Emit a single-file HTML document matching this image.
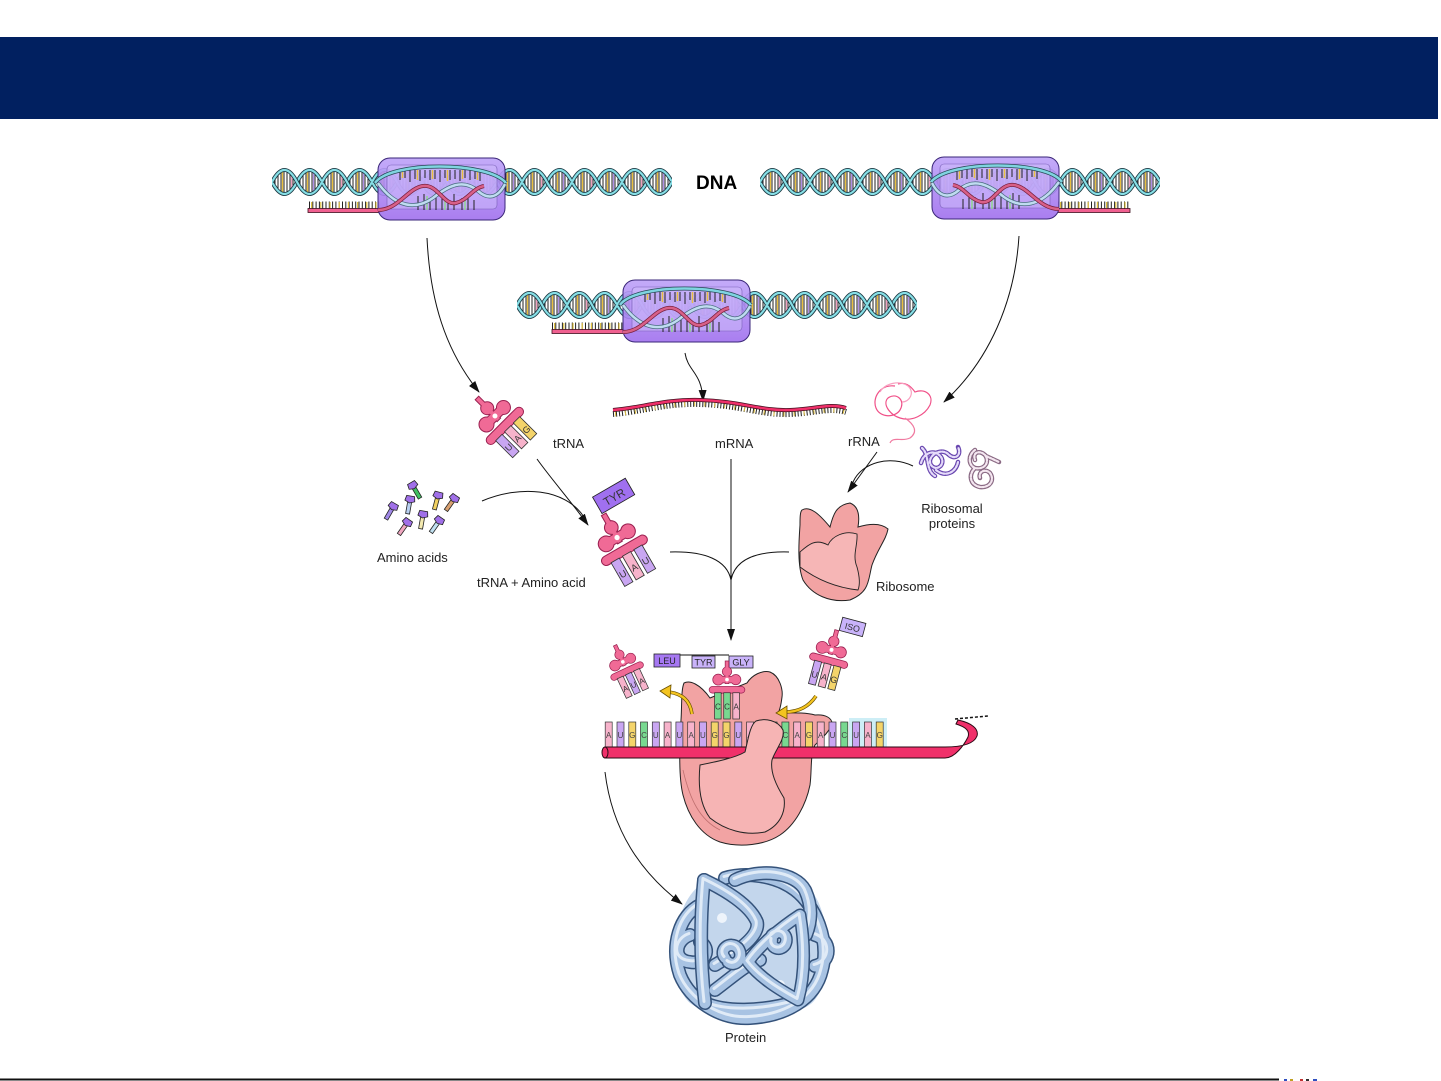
<!DOCTYPE html>
<html><head><meta charset="utf-8"><style>
html,body{margin:0;padding:0;background:#fff;}
svg{display:block;}
text{font-family:"Liberation Sans",Arial,sans-serif;}
</style></head><body>
<svg width="1441" height="1081" viewBox="0 0 1441 1081" xmlns="http://www.w3.org/2000/svg">
<defs>
 <pattern id="hx" width="50" height="30" patternUnits="userSpaceOnUse">
  <g stroke="#222" stroke-width="1">
   <line x1="3" y1="10" x2="3" y2="20"/><line x1="6" y1="6.5" x2="6" y2="23.5"/><line x1="9" y1="4.5" x2="9" y2="25.5"/><line x1="12" y1="4" x2="12" y2="26"/><line x1="15" y1="4" x2="15" y2="26"/><line x1="18" y1="5.5" x2="18" y2="24.5"/><line x1="21" y1="9" x2="21" y2="21"/>
   <line x1="28" y1="10" x2="28" y2="20"/><line x1="31" y1="6.5" x2="31" y2="23.5"/><line x1="34" y1="4.5" x2="34" y2="25.5"/><line x1="37" y1="4" x2="37" y2="26"/><line x1="40" y1="4" x2="40" y2="26"/><line x1="43" y1="5.5" x2="43" y2="24.5"/><line x1="46" y1="9" x2="46" y2="21"/>
  </g>
  <g stroke-width="1.3">
   <line x1="10.5" y1="4" x2="10.5" y2="26" stroke="#e8c040"/><line x1="19.5" y1="7" x2="19.5" y2="23" stroke="#f0a0c0"/>
   <line x1="35.5" y1="4" x2="35.5" y2="26" stroke="#e8c040"/><line x1="41.5" y1="5" x2="41.5" y2="25" stroke="#b090e8"/>
  </g>
  <g fill="none">
   <path d="M0,15 Q12.5,39 25,15 T50,15" stroke="#1d3a44" stroke-width="4"/>
   <path d="M0,15 Q12.5,39 25,15 T50,15" stroke="#86dfe6" stroke-width="2.2"/>
   <path d="M0,15 Q12.5,-9 25,15 T50,15" stroke="#1d3a44" stroke-width="4"/>
   <path d="M0,15 Q12.5,-9 25,15 T50,15" stroke="#86dfe6" stroke-width="2.2"/>
  </g>
 </pattern>
 <linearGradient id="bg" x1="0" y1="0" x2="0" y2="1">
  <stop offset="0" stop-color="#bda2f8"/><stop offset="1" stop-color="#a070ee"/>
 </linearGradient>
 <g id="box">
  <rect x="0" y="0" width="127" height="62" rx="12" fill="url(#bg)" fill-opacity="0.9" stroke="#3a2678" stroke-width="1"/>
  <rect x="9" y="7" width="110" height="44" rx="4" fill="#cdbcfb" fill-opacity="0.55" stroke="#7a60b8" stroke-width="0.6"/>
  <g stroke="#222" stroke-width="1">
   <path d="M22,12 V22 M27,12 V20 M32,12 V24 M37,12 V21 M42,12 V23 M47,12 V20 M52,12 V22 M57,12 V21 M62,12 V24 M67,12 V20 M72,12 V22 M77,12 V21 M82,12 V23 M87,12 V20 M92,12 V22 M97,12 V21 M102,12 V23"/>
   <path d="M40,52 V38 M46,52 V36 M52,52 V40 M58,52 V34 M64,52 V38 M70,52 V42 M76,52 V36 M84,52 V40 M90,52 V36 M96,52 V42"/>
  </g>
  <g stroke-width="1.5">
   <path d="M24.5,12 V20 M39.5,12 V22 M54.5,12 V21 M69.5,12 V23 M84.5,12 V21 M99.5,12 V22" stroke="#e8c040"/>
   <path d="M49,52 V38 M67,52 V40 M87,52 V38" stroke="#90d890"/>
  </g>
  <path d="M-3,25 C12,3 110,3 128,25" fill="none" stroke="#2a4a58" stroke-width="4"/>
  <path d="M-3,25 C12,3 110,3 128,25" fill="none" stroke="#7fd4e0" stroke-width="2.5"/>
  <path d="M0,25 C18,50 38,52 55,40 C70,28 85,20 100,33 C110,42 120,40 127,26" fill="none" stroke="#4a6a80" stroke-width="4"/>
  <path d="M0,25 C18,50 38,52 55,40 C70,28 85,20 100,33 C110,42 120,40 127,26" fill="none" stroke="#bfdcf0" stroke-width="2.5"/>
  <path d="M0,52 C20,52 30,30 45,28 C60,26 66,48 78,45 C90,42 95,30 106,28" fill="none" stroke="#7a2040" stroke-width="4"/>
  <path d="M0,52 C20,52 30,30 45,28 C60,26 66,48 78,45 C90,42 95,30 106,28" fill="none" stroke="#d86088" stroke-width="2.5"/>
 </g>
 <marker id="ah" viewBox="0 0 12 8" refX="11" refY="4" markerWidth="12" markerHeight="8" orient="auto" markerUnits="userSpaceOnUse">
  <path d="M0,0 L12,4 L0,8 z" fill="#111"/>
 </marker>
 <g id="trs" fill="#f06a96">
  <rect x="-2" y="-42" width="4" height="30"/>
  <circle cx="-12" cy="-17" r="7"/>
  <circle cx="12" cy="-17" r="6.5"/>
  <circle cx="0" cy="-28" r="6"/>
  <rect x="-12" y="-21" width="24" height="8"/>
  <rect x="-24" y="-7" width="48" height="8" rx="4"/>
 </g>
 <g id="pr1" fill="none" stroke-linecap="round" stroke-linejoin="round">
  <path d="M725,878 C745,872 775,875 795,890 C815,905 830,940 822,970 C815,1000 785,1016 750,1018 C720,1020 690,1000 680,975 C670,945 680,915 700,905"/>
  <path d="M690,935 C675,940 672,960 690,962 C705,965 712,948 700,942"/>
  <path d="M815,935 C832,940 832,962 815,966"/>
  <path d="M705,1003 C725,1012 760,1012 795,1002"/>
 </g>
 <g id="pr2" fill="none" stroke-linecap="round" stroke-linejoin="round">
  <path d="M735,880 C760,868 795,872 805,890 C812,905 812,920 806,935"/>
  <path d="M704,880 C700,920 700,960 705,1003"/>
  <path d="M704,880 C725,890 750,905 757,922 C760,935 740,950 715,965"/>
  <path d="M715,990 C735,975 745,965 760,960"/>
 </g>
 <g id="pr3" fill="none" stroke-linecap="round" stroke-linejoin="round">
  <path d="M800,915 C805,945 805,975 798,1000 C780,990 760,978 748,962 C760,945 780,928 800,915"/>
  <path d="M725,958 C718,950 730,940 738,948 C745,958 735,968 728,962"/>
  <path d="M772,935 C780,928 790,935 785,945 C780,952 770,948 772,940"/>
 </g>
</defs>

<rect x="0" y="0" width="1441" height="1081" fill="#fff"/>
<rect x="0" y="37" width="1438" height="82" fill="#012060"/>

<!-- DNA helices -->
<g transform="translate(272,167)"><rect width="400" height="30" fill="url(#hx)"/></g>
<g transform="translate(760,167)"><rect width="400" height="30" fill="url(#hx)"/></g>
<g transform="translate(517,290)"><rect width="400" height="30" fill="url(#hx)"/></g>

<!-- RNA tails -->
<g>
 <path d="M309,205 L380,205" stroke="#222" stroke-width="7" stroke-dasharray="1 2.3"/>
 <path d="M311,205 L380,205" stroke="#e0c040" stroke-width="6" stroke-dasharray="1.2 8"/>
 <rect x="308" y="208.5" width="72" height="4" fill="#f06090" stroke="#40101e" stroke-width="0.8"/>
 <path d="M1058,205 L1129,205" stroke="#222" stroke-width="7" stroke-dasharray="1 2.3"/>
 <path d="M1060,205 L1129,205" stroke="#e0c040" stroke-width="6" stroke-dasharray="1.2 8"/>
 <rect x="1058" y="208.5" width="72" height="4" fill="#f06090" stroke="#40101e" stroke-width="0.8"/>
 <path d="M552,326 L624,326" stroke="#222" stroke-width="7" stroke-dasharray="1 2.3"/>
 <path d="M554,326 L624,326" stroke="#e0c040" stroke-width="6" stroke-dasharray="1.2 8"/>
 <rect x="552" y="329.5" width="72" height="4" fill="#f06090" stroke="#40101e" stroke-width="0.8"/>
</g>

<!-- polymerase boxes -->
<use href="#box" transform="translate(378,158)"/>
<use href="#box" transform="translate(1059,157) scale(-1,1)"/>
<use href="#box" transform="translate(623,280)"/>

<text x="696" y="189" font-size="19" font-weight="bold" fill="#000">DNA</text>

<!-- arrows -->
<g fill="none" stroke="#111" stroke-width="1">
 <path d="M427,238 C430,300 445,350 479,392" marker-end="url(#ah)"/>
 <path d="M1019,236 C1015,300 990,360 944,402" marker-end="url(#ah)"/>
 <path d="M685,353 C688,372 702,372 703,401" marker-end="url(#ah)"/>
 <path d="M537,459 C552,480 570,500 588,525" marker-end="url(#ah)"/>
 <path d="M482,501 C520,485 565,488 584,517"/>
 <path d="M877,452 L848,492" marker-end="url(#ah)"/>
 <path d="M913,466 C890,455 862,462 853,482"/>
 <path d="M731,459 L731,640" marker-end="url(#ah)"/>
 <path d="M670,552 C705,551 727,560 731,580"/>
 <path d="M789,552 C755,551 735,560 731,580"/>
 <path d="M605,772 C612,830 640,872 682,904" marker-end="url(#ah)"/>
</g>

<!-- mRNA wave -->
<path d="M613,414 C640,412 665,403 700,404 C740,405 760,415 790,414 C815,413 830,407 846,412" fill="none" stroke="#222" stroke-width="6" stroke-dasharray="1 2"/>
<path d="M615,414 C640,412 665,403 700,404 C740,405 760,415 790,414 C815,413 830,407 846,412" fill="none" stroke="#e0c040" stroke-width="5" stroke-dasharray="1 9"/>
<path d="M613,410 C640,408 665,399 700,400 C740,401 760,411 790,410 C815,409 830,403 846,408" fill="none" stroke="#40101e" stroke-width="4"/>
<path d="M613,410 C640,408 665,399 700,400 C740,401 760,411 790,410 C815,409 830,403 846,408" fill="none" stroke="#f0306a" stroke-width="2.5"/>

<!-- labels -->
<g font-size="13" fill="#222">
 <text x="553" y="448">tRNA</text>
 <text x="715" y="448">mRNA</text>
 <text x="848" y="446">rRNA</text>
 <text x="377" y="562">Amino acids</text>
 <text x="477" y="587">tRNA + Amino acid</text>
 <text x="952" y="513" text-anchor="middle">Ribosomal</text>
 <text x="952" y="528" text-anchor="middle">proteins</text>
 <text x="876" y="591">Ribosome</text>
 <text x="725" y="1042">Protein</text>
</g>

<!-- tRNA (top) -->
<g transform="translate(507,428) rotate(-45) scale(1.0)">
 <use href="#trs" stroke="#9a2050" stroke-width="2"/><use href="#trs"/>
 <circle cx="0" cy="-17" r="2.5" fill="#fff"/>
 <g stroke="#333" stroke-width="0.8">
  <rect x="-17" y="1" width="9" height="24" fill="#c9a6f2"/>
  <rect x="-4.5" y="1" width="9" height="24" fill="#f7b3cb"/>
  <rect x="8" y="1" width="9" height="24" fill="#f4d46a"/>
 </g>
 <g font-size="9" fill="#333" text-anchor="middle"><text x="-12.5" y="18">U</text><text x="0" y="18">A</text><text x="12.5" y="18">G</text></g>
</g>

<!-- amino acids -->
<g stroke="#222" stroke-width="0.8">
 <g transform="translate(413,486) rotate(-30)"><rect x="-2" y="0" width="4" height="14" fill="#40c060"/><path d="M-4,-4 L4,-4 L5,1 L0,3 L-5,1 Z" fill="#a070e8"/></g>
 <g transform="translate(410,500) rotate(10)"><rect x="-2" y="0" width="4" height="14" fill="#b8d0f0"/><path d="M-4,-4 L4,-4 L5,1 L0,3 L-5,1 Z" fill="#a070e8"/></g>
 <g transform="translate(438,496) rotate(15)"><rect x="-2" y="0" width="4" height="14" fill="#f0d060"/><path d="M-4,-4 L4,-4 L5,1 L0,3 L-5,1 Z" fill="#a070e8"/></g>
 <g transform="translate(454,499) rotate(35)"><rect x="-2" y="0" width="4" height="14" fill="#d8a070"/><path d="M-4,-4 L4,-4 L5,1 L0,3 L-5,1 Z" fill="#a070e8"/></g>
 <g transform="translate(393,507) rotate(30)"><rect x="-2" y="0" width="4" height="14" fill="#a088e8"/><path d="M-4,-4 L4,-4 L5,1 L0,3 L-5,1 Z" fill="#a070e8"/></g>
 <g transform="translate(423,515) rotate(10)"><rect x="-2" y="0" width="4" height="14" fill="#f4eab0"/><path d="M-4,-4 L4,-4 L5,1 L0,3 L-5,1 Z" fill="#a070e8"/></g>
 <g transform="translate(439,521) rotate(35)"><rect x="-2" y="0" width="4" height="14" fill="#c0e0f0"/><path d="M-4,-4 L4,-4 L5,1 L0,3 L-5,1 Z" fill="#a070e8"/></g>
 <g transform="translate(407,523) rotate(35)"><rect x="-2" y="0" width="4" height="14" fill="#f0a8c0"/><path d="M-4,-4 L4,-4 L5,1 L0,3 L-5,1 Z" fill="#a070e8"/></g>
</g>

<!-- tRNA + amino acid -->
<g transform="translate(626,553) rotate(-30) scale(1.05)">
 <rect x="-1" y="-62" width="36" height="18" fill="#a070f0" stroke="#222" stroke-width="0.8"/>
 <text x="17" y="-48" font-size="11" fill="#333" text-anchor="middle">TYR</text>
 <use href="#trs" stroke="#9a2050" stroke-width="2"/><use href="#trs"/>
 <circle cx="0" cy="-17" r="2.5" fill="#fff"/>
 <g stroke="#333" stroke-width="0.8">
  <rect x="-17" y="1" width="9" height="26" fill="#c9a6f2"/>
  <rect x="-4.5" y="1" width="9" height="26" fill="#f7b3cb"/>
  <rect x="8" y="1" width="9" height="26" fill="#c9a6f2"/>
 </g>
 <g font-size="9" fill="#333" text-anchor="middle"><text x="-12.5" y="19">U</text><text x="0" y="19">A</text><text x="12.5" y="19">U</text></g>
</g>

<!-- rRNA -->
<g fill="none" stroke-width="1.2">
 <path d="M895,386 C880,384 872,398 876,408 C880,418 895,418 900,410 C906,400 896,392 888,398 C882,404 890,415 900,418 C912,422 925,415 930,405 C934,395 925,388 915,392 C910,385 905,382 898,384" stroke="#f05088"/>
 <path d="M905,418 C915,425 918,432 910,438 C902,442 893,436 890,443" stroke="#f07aa0"/>
 <path d="M880,392 C885,383 900,380 908,386 C915,392 910,402 902,402" stroke="#f8a0c0"/>
</g>

<!-- ribosomal proteins -->
<g fill="none" stroke-linecap="round">
 <path d="M921,463 C924,452 935,449 941,457 C946,465 936,472 931,465 C926,457 940,447 948,454 C955,461 962,455 958,447 M936,470 C946,478 956,472 958,462 M922,448 C930,455 925,470 935,476" stroke="#6a48b0" stroke-width="4.5"/>
 <path d="M921,463 C924,452 935,449 941,457 C946,465 936,472 931,465 C926,457 940,447 948,454 C955,461 962,455 958,447 M936,470 C946,478 956,472 958,462 M922,448 C930,455 925,470 935,476" stroke="#e6dcfa" stroke-width="2.2" stroke-dasharray="2.2 1.6"/>
 <path d="M975,450 C968,455 968,465 975,468 C985,470 990,462 985,455 C980,450 972,452 975,460 M975,468 C968,475 970,485 980,487 C990,488 995,480 990,473 C985,468 978,472 980,478 M986,456 L999,462" stroke="#8a6a84" stroke-width="4.5"/>
 <path d="M975,450 C968,455 968,465 975,468 C985,470 990,462 985,455 C980,450 972,452 975,460 M975,468 C968,475 970,485 980,487 C990,488 995,480 990,473 C985,468 978,472 980,478 M986,456 L999,462" stroke="#f4e6f0" stroke-width="2.2" stroke-dasharray="2.2 1.6"/>
</g>

<!-- ribosome (right) -->
<path d="M802,510 C810,505 820,515 830,527 C833,515 836,505 850,503 C858,506 860,515 858,527 C868,524 880,522 888,529 C886,540 878,548 872,565 C868,580 870,592 850,600 C830,603 812,595 803,580 C797,565 799,540 800,525 C800,518 800,512 802,510 Z" fill="#f2a3a3" stroke="#222" stroke-width="1"/>
<path d="M800,552 C808,545 815,538 828,545 C832,536 845,530 857,534 C858,545 852,555 857,567 C860,578 860,585 858,590 C840,588 820,582 800,567 Z" fill="#f6b6b6" stroke="#222" stroke-width="0.9"/>

<!-- big ribosome back -->
<path d="M684,683 C690,680 700,684 710,698 L747,683 C752,675 762,670 770,672 C780,676 783,690 782,697 C781,705 780,710 778,713 C790,713 805,712 815,715 C825,714 833,718 832,725 C828,733 822,738 815,745 C810,755 812,770 810,785 C806,805 795,825 780,835 C765,845 740,848 720,842 C700,835 688,815 683,795 C678,775 680,740 681,720 C682,705 681,690 684,683 Z" fill="#f2a3a3" stroke="#222" stroke-width="1"/>
<path d="M683,770 C690,800 700,820 720,830" fill="none" stroke="#c07070" stroke-width="0.8"/>

<!-- LEU TYR GLY chain -->
<path d="M680,655 L729,655" stroke="#111" stroke-width="1"/>
<rect x="654" y="654" width="26" height="13" fill="#a678f2" stroke="#222" stroke-width="0.8"/>
<rect x="692" y="656" width="23" height="12" fill="#c9b3fa" stroke="#222" stroke-width="0.8"/>
<rect x="729" y="656" width="24" height="12" fill="#c9b3fa" stroke="#222" stroke-width="0.8"/>
<g font-size="9" fill="#222" text-anchor="middle"><text x="667" y="664">LEU</text><text x="703.5" y="665.5">TYR</text><text x="741" y="665.5">GLY</text></g>

<!-- center tRNA -->
<g transform="translate(727,692) scale(0.73)">
 <use href="#trs" stroke="#9a2050" stroke-width="2"/><use href="#trs"/>
 <circle cx="0" cy="-17" r="2.5" fill="#fff"/>
 <g stroke="#333" stroke-width="1">
  <rect x="-17" y="1" width="9" height="36" fill="#78d890"/>
  <rect x="-4.5" y="1" width="9" height="36" fill="#78d890"/>
  <rect x="8" y="1" width="9" height="36" fill="#f7b3cb"/>
 </g>
 <g font-size="11" fill="#333" text-anchor="middle"><text x="-12.5" y="24">C</text><text x="0" y="24">C</text><text x="12.5" y="24">A</text></g>
</g>

<!-- left leaving tRNA -->
<g transform="translate(628,673) rotate(-25) scale(0.72)">
 <use href="#trs" stroke="#9a2050" stroke-width="2"/><use href="#trs"/>
 <circle cx="0" cy="-17" r="2.5" fill="#fff"/>
 <g stroke="#333" stroke-width="1">
  <rect x="-17" y="1" width="9" height="30" fill="#f7b3cb"/>
  <rect x="-4.5" y="1" width="9" height="30" fill="#c9a6f2"/>
  <rect x="8" y="1" width="9" height="30" fill="#f7b3cb"/>
 </g>
 <g font-size="11" fill="#333" text-anchor="middle"><text x="-12.5" y="22">A</text><text x="0" y="22">U</text><text x="12.5" y="22">A</text></g>
</g>

<!-- right incoming tRNA -->
<g transform="translate(828,663) rotate(15) scale(0.8)">
 <rect x="3" y="-60" width="30" height="17" fill="#c9b3fa" stroke="#222" stroke-width="1"/>
 <text x="18" y="-47" font-size="11" fill="#333" text-anchor="middle">ISO</text>
 <use href="#trs" stroke="#9a2050" stroke-width="2"/><use href="#trs"/>
 <circle cx="0" cy="-17" r="2.5" fill="#fff"/>
 <g stroke="#333" stroke-width="1">
  <rect x="-17" y="1" width="9" height="30" fill="#c9a6f2"/>
  <rect x="-4.5" y="1" width="9" height="30" fill="#f7b3cb"/>
  <rect x="8" y="1" width="9" height="30" fill="#f4d46a"/>
 </g>
 <g font-size="11" fill="#333" text-anchor="middle"><text x="-12.5" y="22">U</text><text x="0" y="22">A</text><text x="12.5" y="22">G</text></g>
</g>

<!-- yellow arrows -->
<path d="M692,714 C690,700 682,694 669,692" fill="none" stroke="#6a5000" stroke-width="3.6"/>
<path d="M692,714 C690,700 682,694 669,692" fill="none" stroke="#f4c420" stroke-width="2.2"/>
<path d="M660,691 L671,685 L670,698 Z" fill="#f4c420" stroke="#6a5000" stroke-width="0.8"/>
<path d="M816,696 C808,708 797,712 785,712" fill="none" stroke="#6a5000" stroke-width="3.6"/>
<path d="M816,696 C808,708 797,712 785,712" fill="none" stroke="#f4c420" stroke-width="2.2"/>
<path d="M776,713 L787,706 L787,719 Z" fill="#f4c420" stroke="#6a5000" stroke-width="0.8"/>

<!-- codon highlight -->
<rect x="849" y="718" width="38" height="29" fill="#cdeef6"/>

<!-- nucleotide bars -->
<g stroke="#333" stroke-width="0.7">
 <rect x="605.2" y="722" width="7" height="26" fill="#f7b3cb"/>
 <rect x="617.0" y="722" width="7" height="26" fill="#c9a6f2"/>
 <rect x="628.8" y="722" width="7" height="26" fill="#f4d46a"/>
 <rect x="640.5" y="722" width="7" height="26" fill="#78d890"/>
 <rect x="652.3" y="722" width="7" height="26" fill="#c9a6f2"/>
 <rect x="664.1" y="722" width="7" height="26" fill="#f7b3cb"/>
 <rect x="675.9" y="722" width="7" height="26" fill="#c9a6f2"/>
 <rect x="687.7" y="722" width="7" height="26" fill="#f7b3cb"/>
 <rect x="699.4" y="722" width="7" height="26" fill="#c9a6f2"/>
 <rect x="711.2" y="722" width="7" height="26" fill="#f4d46a"/>
 <rect x="723.0" y="722" width="7" height="26" fill="#f4d46a"/>
 <rect x="734.8" y="722" width="7" height="26" fill="#c9a6f2"/>
 <rect x="746.6" y="722" width="7" height="26" fill="#f7b3cb"/>
 <rect x="758.3" y="722" width="7" height="26" fill="#c9a6f2"/>
 <rect x="770.1" y="722" width="7" height="26" fill="#78d890"/>
 <rect x="781.9" y="722" width="7" height="26" fill="#78d890"/>
 <rect x="793.7" y="722" width="7" height="26" fill="#f7b3cb"/>
 <rect x="805.5" y="722" width="7" height="26" fill="#f4d46a"/>
 <rect x="817.2" y="722" width="7" height="26" fill="#f7b3cb"/>
 <rect x="829.0" y="722" width="7" height="26" fill="#c9a6f2"/>
 <rect x="840.8" y="722" width="7" height="26" fill="#78d890"/>
 <rect x="852.6" y="722" width="7" height="26" fill="#c9a6f2"/>
 <rect x="864.4" y="722" width="7" height="26" fill="#f7b3cb"/>
 <rect x="876.2" y="722" width="7" height="26" fill="#f4d46a"/>
</g>
<g font-size="8" fill="#444" text-anchor="middle">
 <text x="608.7" y="738">A</text><text x="620.5" y="738">U</text><text x="632.3" y="738">G</text><text x="644.0" y="738">C</text>
 <text x="655.8" y="738">U</text><text x="667.6" y="738">A</text><text x="679.4" y="738">U</text><text x="691.2" y="738">A</text>
 <text x="702.9" y="738">U</text><text x="714.7" y="738">G</text><text x="726.5" y="738">G</text><text x="738.3" y="738">U</text>
 <text x="750.1" y="738">A</text><text x="761.8" y="738">U</text><text x="773.6" y="738">C</text><text x="785.4" y="738">C</text>
 <text x="797.2" y="738">A</text><text x="809.0" y="738">G</text><text x="820.7" y="738">A</text><text x="832.5" y="738">U</text>
 <text x="844.3" y="738">C</text><text x="856.1" y="738">U</text><text x="867.9" y="738">A</text><text x="879.7" y="738">G</text>
</g>

<!-- mRNA strand -->
<path d="M605,747 L945,747 C962,747 974,744 977,736 C979,729 972,723 958,720 L956,724 C966,727 970,731 968,737 C964,745 955,758 945,758 L605,758 Z" fill="#f0306a" stroke="#2a0a14" stroke-width="1"/>
<ellipse cx="605" cy="752.5" rx="3" ry="5.5" fill="#f0306a" stroke="#2a0a14" stroke-width="1"/>
<path d="M955,719 L988,716" stroke="#111" stroke-width="1.5" stroke-dasharray="3 2"/>

<!-- big ribosome front -->
<path d="M700,765 C715,762 735,758 745,752 C748,740 750,725 756,721 C765,718 778,720 783,730 C785,740 775,750 772,760 C770,772 776,785 784,798 C786,812 780,825 765,832 C745,836 725,830 710,818 C700,805 698,785 700,765 Z" fill="#f6b4b4" stroke="#222" stroke-width="1"/>

<!-- protein -->
<path d="M700,885 C730,868 790,868 812,892 C832,915 832,985 812,1003 C790,1022 715,1022 690,1003 C668,985 668,910 700,885 Z" fill="#c3d6ec"/>
<circle cx="748" cy="950" r="9" fill="#fff"/>
<circle cx="722" cy="918" r="5" fill="#eef4fb"/>
<circle cx="780" cy="985" r="5" fill="#eef4fb"/>
<use href="#pr1" stroke="#34527a" stroke-width="14"/>
<use href="#pr1" stroke="#a8c3e3" stroke-width="11"/>
<use href="#pr1" stroke="#e0ebf7" stroke-width="3" transform="translate(-1,-1.5)"/>
<use href="#pr2" stroke="#34527a" stroke-width="14"/>
<use href="#pr2" stroke="#a8c3e3" stroke-width="11"/>
<use href="#pr2" stroke="#e0ebf7" stroke-width="3" transform="translate(-1,-1.5)"/>
<use href="#pr3" stroke="#34527a" stroke-width="13"/>
<use href="#pr3" stroke="#a8c3e3" stroke-width="10"/>
<use href="#pr3" stroke="#e0ebf7" stroke-width="3" transform="translate(-1,-1.5)"/>

<!-- bottom rule -->
<rect x="0" y="1078.5" width="1279" height="2" fill="#111"/>
<rect x="1284" y="1079" width="3" height="2" fill="#3050c0"/>
<rect x="1290" y="1079" width="3" height="2" fill="#c0a020"/>
<rect x="1300" y="1079" width="3" height="2" fill="#c03030"/>
<rect x="1306" y="1079" width="3" height="2" fill="#303030"/>
<rect x="1313" y="1079" width="4" height="2" fill="#3050c0"/>
</svg>
</body></html>
